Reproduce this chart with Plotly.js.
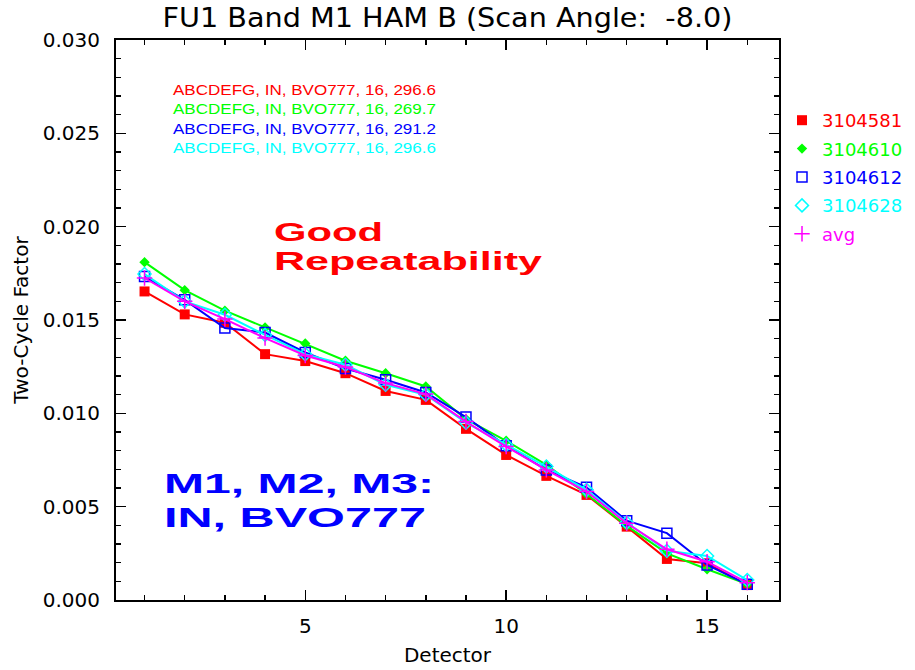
<!DOCTYPE html>
<html>
<head>
<meta charset="utf-8">
<script src="https://cdn.plot.ly/plotly-3.0.1.min.js"></script>
<style>
html,body{margin:0;padding:0;background:#fff;}
#chart{width:915px;height:670px;}
</style>
</head>
<body>
<div id="chart"></div>
<script>
const detectors = [1,2,3,4,5,6,7,8,9,10,11,12,13,14,15,16];
const s3104581 = [0.01653,0.01530,0.01485,0.01317,0.01280,0.01215,0.01120,0.01072,0.00917,0.00777,0.00665,0.00563,0.00393,0.00220,0.00197,0.00080];
const s3104610 = [0.01810,0.01660,0.01550,0.01460,0.01374,0.01282,0.01215,0.01144,0.00969,0.00853,0.00724,0.00568,0.00397,0.00250,0.00165,0.00085];
const s3104612 = [0.01733,0.01608,0.01457,0.01433,0.01326,0.01240,0.01180,0.01112,0.00980,0.00826,0.00697,0.00604,0.00425,0.00358,0.00188,0.00084];
const s3104628 = [0.01746,0.01600,0.01528,0.01420,0.01317,0.01260,0.01153,0.01100,0.00950,0.00831,0.00715,0.00590,0.00415,0.00264,0.00236,0.00107];
const sAvg     = [0.01725,0.01600,0.01505,0.01403,0.01310,0.01248,0.01162,0.01103,0.00956,0.00822,0.00697,0.00581,0.00411,0.00272,0.00205,0.00093];

const seriesNames = ['3104581','3104610','3104612','3104628','avg'];
const seriesData = [s3104581, s3104610, s3104612, s3104628, sAvg];
const infoLines = [
  'ABCDEFG, IN, BVO777, 16, 296.6',
  'ABCDEFG, IN, BVO777, 16, 269.7',
  'ABCDEFG, IN, BVO777, 16, 291.2',
  'ABCDEFG, IN, BVO777, 16, 296.6'
];

const colors = ['#ff0000','#00ff00','#0000ff','#00ffff','#ff00ff'];
const markers = [
  {symbol:'square', size:10, color:colors[0]},
  {symbol:'diamond', size:8, color:colors[1]},
  {symbol:'square-open', size:10, color:colors[2], line:{width:1.5, color:colors[2]}},
  {symbol:'diamond-open', size:10, color:colors[3], line:{width:1.5, color:colors[3]}},
  {symbol:'cross-thin-open', size:11, color:colors[4], line:{width:1.5, color:colors[4]}}
];

const traces = [];
seriesData.forEach((ys, i) => {
  traces.push({
    x: detectors, y: ys, type:'scatter', mode:'lines',
    line:{color:colors[i], width:2}, showlegend:false,
    legendgroup:'g'+i, hoverinfo:'skip'
  });
  traces.push({
    x: detectors, y: ys, type:'scatter', mode:'markers',
    marker: markers[i], legendgroup:'g'+i,
    name: '<span style="color:'+colors[i]+'">'+seriesNames[i]+'</span>'
  });
});

// pixel helpers for annotation placement (plot area 116..779 x 40..600)
const L=116, R=779, T=40, B=600;
const px = x => (x-L)/(R-L);
const py = y => (B-y)/(B-T);

const annotations = [];
const stretch = [];
const infoY = [89,108,128,147];
infoLines.forEach((t,i)=>{
  annotations.push({xref:'paper', yref:'paper', x:px(171), y:py(infoY[i]), xanchor:'left', yanchor:'middle', align:'left',
    text:t, showarrow:false, font:{family:'Liberation Sans, Arial, sans-serif', size:15, color:colors[i]}});
  stretch.push(263);
});
const bigTexts = [
  {t:'<b>Good</b>', x:272, y:232, w:109, c:'#ff0000', s:25},
  {t:'<b>Repeatability</b>', x:272, y:261, w:268, c:'#ff0000', s:25},
  {t:'<b>M1, M2, M3:</b>', x:162, y:483, w:270, c:'#0000ff', s:28},
  {t:'<b>IN, BVO777</b>', x:162, y:517, w:262, c:'#0000ff', s:28}
];
bigTexts.forEach(b=>{
  annotations.push({xref:'paper', yref:'paper', x:px(b.x), y:py(b.y), xanchor:'left', yanchor:'middle', align:'left',
    text:b.t, showarrow:false, font:{family:'Liberation Sans, Arial, sans-serif', size:b.s, color:b.c}});
  stretch.push(b.w);
});

const axisFont = {family:'DejaVu Sans, sans-serif', size:20, color:'#000'};
const layout = {
  width:915, height:670,
  margin:{l:L, r:915-R, t:T, b:670-B, autoexpand:false},
  paper_bgcolor:'#fff', plot_bgcolor:'#fff',
  title:{text:'FU1 Band M1 HAM B (Scan Angle:&nbsp; -8.0)', x:0.5, xref:'paper', y:1-18/670, yref:'container', yanchor:'middle',
    font:{family:'DejaVu Sans, sans-serif', size:27, color:'#000'}},
  xaxis:{
    range:[0.29, 16.79], tick0:0, dtick:5, ticks:'inside', ticklen:10, tickwidth:1.5, tickcolor:'#000',
    minor:{dtick:1, tick0:0, ticks:'inside', ticklen:5, tickwidth:1.5, tickcolor:'#000'},
    showline:true, linecolor:'#000', linewidth:2, mirror:'ticks', showgrid:false, zeroline:false,
    tickfont:axisFont, ticklabelstandoff:7,
    title:{text:'Detector', font:axisFont, standoff:11}
  },
  yaxis:{
    range:[0, 0.030], tick0:0, dtick:0.005, tickformat:'.3f', ticks:'inside', ticklen:10, tickwidth:1.5, tickcolor:'#000',
    minor:{dtick:0.001, tick0:0, ticks:'inside', ticklen:5, tickwidth:1.5, tickcolor:'#000'},
    showline:true, linecolor:'#000', linewidth:2, mirror:'ticks', showgrid:false, zeroline:false,
    tickfont:axisFont, ticklabelstandoff:10,
    title:{text:'Two-Cycle Factor', font:axisFont, standoff:9}
  },
  legend:{x:px(782), xanchor:'left', y:py(102), yanchor:'top', bgcolor:'rgba(0,0,0,0)', tracegroupgap:2,
    font:{family:'DejaVu Sans, sans-serif', size:18, color:'#000'}},
  annotations: annotations,
  showlegend:true
};

Plotly.newPlot('chart', traces, layout, {displayModeBar:false, staticPlot:true}).then(gd=>{
  gd.querySelectorAll('g.annotation').forEach(g=>{
    const idx = +g.getAttribute('data-index');
    const txt = g.querySelector('text.annotation-text');
    if (txt && stretch[idx]) {
      txt.setAttribute('textLength', stretch[idx]);
      txt.setAttribute('lengthAdjust', 'spacingAndGlyphs');
    }
  });
  const title = gd.querySelector('text.gtitle');
  if (title) {
    title.setAttribute('textLength', 570);
    title.setAttribute('lengthAdjust', 'spacingAndGlyphs');
  }
});
</script>
</body>
</html>
